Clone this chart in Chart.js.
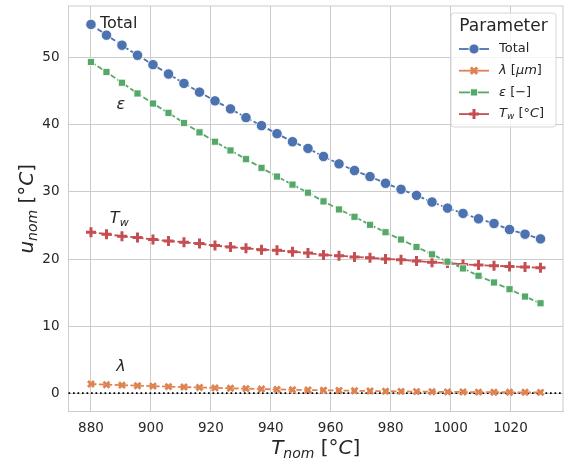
<!DOCTYPE html>
<html>
<head>
<meta charset="utf-8">
<script src="https://cdn.jsdelivr.net/npm/chart.js@4"></script>
<style>
  html, body { margin: 0; padding: 0; background: #fff; }
  #uncChart { display: block; }
</style>
</head>
<body>
<canvas id="uncChart" width="569" height="464"></canvas>
<script>
// nominal temperatures [°C]
const tNom = [880.00, 885.17, 890.34, 895.52, 900.69, 905.86, 911.03, 916.21, 921.38, 926.55,
              931.72, 936.90, 942.07, 947.24, 952.41, 957.59, 962.76, 967.93, 973.10, 978.28,
              983.45, 988.62, 993.79, 998.97, 1004.14, 1009.31, 1014.48, 1019.66, 1024.83, 1030.00];

const totalU = [55.0, 53.4, 51.9, 50.4, 49.0, 47.6, 46.2, 44.9, 43.6, 42.4,
                41.1, 39.9, 38.7, 37.5, 36.5, 35.3, 34.2, 33.2, 32.3, 31.3,
                30.4, 29.5, 28.5, 27.6, 26.8, 26.0, 25.3, 24.4, 23.7, 23.0];
const lambdaU = [1.35, 1.25, 1.18, 1.10, 1.04, 0.96, 0.90, 0.83, 0.77, 0.71,
                 0.66, 0.60, 0.55, 0.50, 0.46, 0.42, 0.38, 0.34, 0.31, 0.28,
                 0.25, 0.22, 0.20, 0.18, 0.16, 0.14, 0.13, 0.12, 0.11, 0.10];
const epsU = [49.4, 47.9, 46.3, 44.7, 43.2, 41.8, 40.3, 38.9, 37.5, 36.2,
              34.9, 33.6, 32.3, 31.1, 29.9, 28.6, 27.4, 26.3, 25.1, 24.0,
              22.9, 21.8, 20.7, 19.6, 18.6, 17.5, 16.5, 15.5, 14.4, 13.4];
const twU = [24.0, 23.7, 23.4, 23.2, 22.9, 22.7, 22.5, 22.3, 22.0, 21.8,
             21.6, 21.4, 21.3, 21.1, 20.9, 20.6, 20.5, 20.3, 20.2, 20.0,
             19.9, 19.7, 19.5, 19.4, 19.2, 19.1, 19.0, 18.9, 18.8, 18.7];

const xTicks = [880, 900, 920, 940, 960, 980, 1000, 1020];
const yTicks = [0, 10, 20, 30, 40, 50];

const FONT = '"DejaVu Sans", sans-serif';
const TXT = '#262626';
const GRID = '#cccccc';

const pts = vals => vals.map((v, i) => ({ x: tNom[i], y: v }));

function series(label, vals, color, style, radius, bw, bc) {
    return {
        label: label,
        data: pts(vals),
        borderColor: color,
        backgroundColor: color,
        borderWidth: 1.8,
        borderDash: [5.5, 2.4],
        pointStyle: style,
        pointRadius: radius,
        pointBackgroundColor: color,
        pointBorderColor: bc,
        pointBorderWidth: bw,
        tension: 0
    };
}

// draws a run of text pieces (italic / subscript) starting at x
function drawRich(ctx, parts, x, y, align) {
    let w = 0;
    parts.forEach(p => {
        ctx.font = (p.i ? 'italic ' : '') + p.s + 'px ' + FONT;
        w += ctx.measureText(p.t).width;
    });
    let cx = align === 'center' ? x - w / 2 : x;
    parts.forEach(p => {
        ctx.font = (p.i ? 'italic ' : '') + p.s + 'px ' + FONT;
        ctx.fillText(p.t, cx, y + (p.dy || 0));
        cx += ctx.measureText(p.t).width;
    });
    return w;
}

const legendItems = [
    { parts: [{ t: 'Total', s: 13 }], color: '#4c72b0', style: 'circle', r: 5 },
    { parts: [{ t: 'λ', s: 13, i: true }, { t: ' [', s: 13 }, { t: 'μm', s: 13, i: true }, { t: ']', s: 13 }], color: '#dd8452', style: 'crossRot', r: 4.5 },
    { parts: [{ t: 'ε', s: 13, i: true }, { t: ' [−]', s: 13 }], color: '#55a868', style: 'rect', r: 5 },
    { parts: [{ t: 'T', s: 13, i: true }, { t: 'w', s: 9, i: true, dy: 3 }, { t: ' [°', s: 13 }, { t: 'C', s: 13, i: true }, { t: ']', s: 13 }], color: '#c44e52', style: 'cross', r: 5 }
];

const noPad = s => { s.paddingTop = 0; s.paddingBottom = 0; s.paddingLeft = 0; s.paddingRight = 0; };

const decorPlugin = {
    id: 'decor',
    beforeDatasetsDraw(chart) {
        const { ctx, chartArea: a, scales } = chart;
        ctx.save();
        ctx.strokeStyle = GRID;
        ctx.lineWidth = 1;
        ctx.strokeRect(a.left, a.top, a.right - a.left, a.bottom - a.top);
        // dotted zero line
        const y0 = scales.y.getPixelForValue(0);
        ctx.strokeStyle = '#000';
        ctx.lineWidth = 1.7;
        ctx.setLineDash([1.7, 2.8]);
        ctx.beginPath();
        ctx.moveTo(a.left, y0);
        ctx.lineTo(a.right, y0);
        ctx.stroke();
        ctx.restore();
    },
    afterDraw(chart) {
        const { ctx, chartArea: a, scales } = chart;
        const sx = scales.x, sy = scales.y;
        ctx.save();
        ctx.fillStyle = TXT;
        ctx.textBaseline = 'middle';
        // annotations
        drawRich(ctx, [{ t: 'Total', s: 16 }], sx.getPixelForValue(883), sy.getPixelForValue(55.1), 'left');
        drawRich(ctx, [{ t: 'ε', s: 16, i: true }], sx.getPixelForValue(890), sy.getPixelForValue(43), 'center');
        drawRich(ctx, [{ t: 'T', s: 16, i: true }, { t: 'w', s: 11, i: true, dy: 4 }], sx.getPixelForValue(886.3), sy.getPixelForValue(26), 'left');
        drawRich(ctx, [{ t: 'λ', s: 16, i: true }], sx.getPixelForValue(890), sy.getPixelForValue(3.9), 'center');

        // axis titles
        drawRich(ctx, [{ t: 'T', s: 20, i: true }, { t: 'nom', s: 14, i: true, dy: 5 }, { t: ' [°', s: 20 }, { t: 'C', s: 20, i: true }, { t: ']', s: 20 }],
                 (a.left + a.right) / 2, 449, 'center');
        ctx.save();
        ctx.translate(28, (a.top + a.bottom) / 2);
        ctx.rotate(-Math.PI / 2);
        drawRich(ctx, [{ t: 'u', s: 20, i: true }, { t: 'nom', s: 14, i: true, dy: 5 }, { t: ' [°', s: 20 }, { t: 'C', s: 20, i: true }, { t: ']', s: 20 }],
                 0, 0, 'center');
        ctx.restore();

        // legend
        const bx = 451, by = 13, bw = 105, bh = 114;
        ctx.fillStyle = 'rgba(255,255,255,0.8)';
        ctx.strokeStyle = '#d6d6d6';
        ctx.lineWidth = 1;
        ctx.beginPath();
        ctx.roundRect(bx, by, bw, bh, 3);
        ctx.fill();
        ctx.stroke();
        ctx.fillStyle = TXT;
        drawRich(ctx, [{ t: 'Parameter', s: 17 }], bx + bw / 2, 27, 'center');
        legendItems.forEach((it, k) => {
            const yy = 49 + k * 21.7;
            ctx.strokeStyle = it.color;
            ctx.lineWidth = 1.8;
            ctx.setLineDash([]);
            ctx.beginPath();
            ctx.moveTo(459, yy);
            ctx.lineTo(489, yy);
            ctx.stroke();
            ctx.fillStyle = it.color;
            const isCross = it.style === 'cross' || it.style === 'crossRot';
            ctx.lineWidth = isCross ? 3 : 0.8;
            ctx.strokeStyle = isCross ? it.color : '#fff';
            Chart.helpers.drawPoint(ctx, { pointStyle: it.style, radius: it.r, borderWidth: ctx.lineWidth }, 474, yy);
            ctx.fillStyle = TXT;
            drawRich(ctx, it.parts, 499, yy, 'left');
        });
        ctx.restore();
    }
};

new Chart(document.getElementById('uncChart').getContext('2d'), {
    type: 'line',
    data: {
        datasets: [
            series('Total', totalU, '#4c72b0', 'circle', 5.2, 0.8, '#ffffff'),
            series('λ [μm]', lambdaU, '#dd8452', 'crossRot', 4.2, 2.8, '#dd8452'),
            series('ε [−]', epsU, '#55a868', 'rect', 5, 0.8, '#ffffff'),
            series('T_w [°C]', twU, '#c44e52', 'cross', 5, 3, '#c44e52')
        ]
    },
    options: {
        responsive: false,
        animation: false,
        devicePixelRatio: 1,
        layout: { autoPadding: false, padding: { top: 6, right: 6, left: 0, bottom: 0 } },
        plugins: { legend: { display: false }, tooltip: { enabled: false } },
        scales: {
            x: {
                type: 'linear',
                min: 872.5,
                max: 1037.5,
                afterBuildTicks: s => { s.ticks = xTicks.map(v => ({ value: v })); },
                afterFit: s => { s.height = 52.5; noPad(s); },
                grid: { color: GRID, lineWidth: 1, drawTicks: false },
                border: { color: GRID },
                ticks: { color: TXT, font: { family: FONT, size: 13.5 }, padding: 9, maxRotation: 0,
                         autoSkip: false, callback: v => String(v) }
            },
            y: {
                type: 'linear',
                min: -2.75,
                max: 57.75,
                afterBuildTicks: s => { s.ticks = yTicks.map(v => ({ value: v })); },
                afterFit: s => { s.width = 68.5; noPad(s); },
                grid: { color: GRID, lineWidth: 1, drawTicks: false },
                border: { color: GRID },
                ticks: { color: TXT, font: { family: FONT, size: 13.5 }, padding: 9,
                         autoSkip: false, callback: v => String(v) }
            }
        }
    },
    plugins: [decorPlugin]
});
</script>
</body>
</html>
